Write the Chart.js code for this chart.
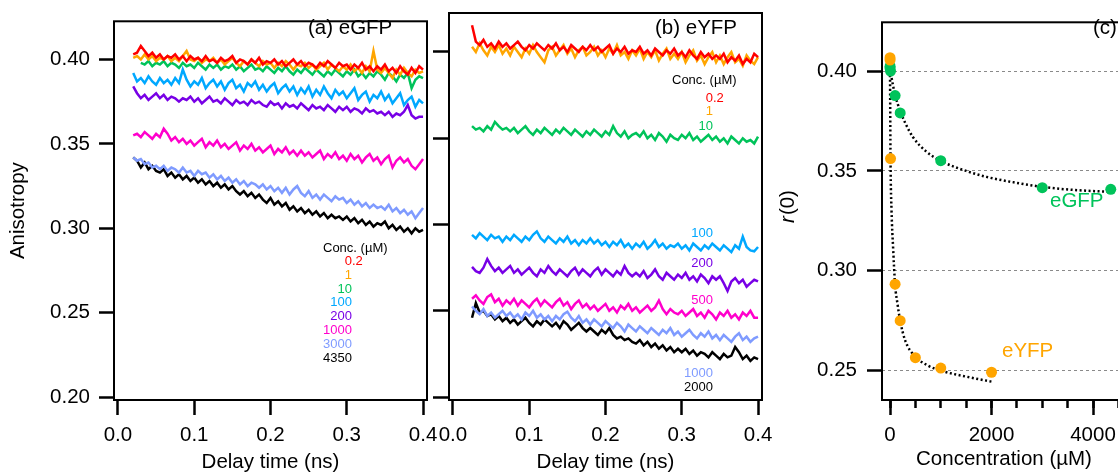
<!DOCTYPE html>
<html>
<head>
<meta charset="utf-8">
<script src="https://cdn.jsdelivr.net/npm/chart.js@4.4.1/dist/chart.umd.min.js"></script>
<style>
  html, body { margin: 0; padding: 0; background: #fff; overflow: hidden; }
  #wrap { position: relative; width: 1118px; height: 475px; overflow: hidden; }
  canvas { position: absolute; left: 0; top: 0; }
</style>
</head>
<body>
<div id="wrap">
  <canvas id="chartA" width="1118" height="475"></canvas>
  <canvas id="chartB" width="1118" height="475"></canvas>
  <canvas id="chartC" width="1140" height="475"></canvas>
</div>
<script>
// delay time grid of the anisotropy traces (ns)
const delay = [
  0.020, 0.025, 0.030, 0.035, 0.040, 0.045, 0.050, 0.055, 0.060, 0.065, 0.070,
  0.075, 0.080, 0.085, 0.090, 0.095, 0.100, 0.105, 0.110, 0.115, 0.120, 0.125,
  0.130, 0.135, 0.140, 0.145, 0.150, 0.155, 0.160, 0.165, 0.170, 0.175, 0.180,
  0.185, 0.190, 0.195, 0.200, 0.205, 0.210, 0.215, 0.220, 0.225, 0.230, 0.235,
  0.240, 0.245, 0.250, 0.255, 0.260, 0.265, 0.270, 0.275, 0.280, 0.285, 0.290,
  0.295, 0.300, 0.305, 0.310, 0.315, 0.320, 0.325, 0.330, 0.335, 0.340, 0.345,
  0.350, 0.355, 0.360, 0.365, 0.370, 0.375, 0.380, 0.385, 0.390, 0.395, 0.400
];

// (a) eGFP anisotropy traces
const gfp02 = [
  .403,.404,.408,.405,.402,.404,.401,.403,.400,.402,.401,
  .403,.400,.402,.399,.402,.400,.401,.399,.402,.399,.400,
  .398,.401,.399,.400,.402,.398,.400,.399,.397,.400,.398,
  .401,.397,.399,.398,.400,.397,.399,.396,.398,.400,.397,
  .399,.396,.398,.397,.395,.398,.396,.399,.397,.395,.398,
  .396,.397,.394,.397,.395,.398,.394,.396,.393,.396,.394,
  .397,.393,.395,.392,.396,.393,.391,.395,.392,.396,.394
];
const gfp1 = [
  .401,.402,.400,.403,.400,.402,.399,.401,.400,.402,.399,
  .401,.399,.402,.405,.400,.399,.401,.398,.400,.399,.401,
  .398,.400,.397,.399,.401,.398,.396,.399,.397,.400,.398,
  .396,.399,.397,.398,.395,.398,.396,.399,.397,.394,.397,
  .396,.398,.395,.397,.394,.396,.398,.394,.397,.395,.393,
  .396,.394,.397,.393,.395,.392,.396,.393,.405,.394,.392,
  .395,.392,.389,.394,.391,.395,.392,.390,.394,.392,.393
];
const gfp10 = [
  null,null,.398,.397,.399,.396,.398,.397,.399,.396,.398,
  .397,.395,.398,.396,.397,.395,.398,.396,.394,.397,.395,
  .397,.394,.396,.395,.397,.394,.396,.393,.395,.397,.394,
  .395,.393,.396,.394,.392,.395,.393,.396,.393,.391,.394,
  .392,.395,.393,.391,.394,.392,.390,.393,.391,.394,.392,
  .390,.393,.391,.394,.390,.392,.389,.392,.390,.393,.391,
  .388,.392,.390,.387,.391,.389,.392,.383,.388,.390,.389
];
const gfp100 = [
  .392,.387,.389,.386,.390,.387,.385,.389,.386,.388,.385,
  .389,.386,.394,.388,.384,.387,.385,.389,.383,.386,.388,
  .384,.387,.382,.386,.388,.383,.385,.381,.386,.384,.387,
  .382,.385,.381,.384,.386,.380,.383,.385,.381,.384,.379,
  .383,.380,.384,.378,.382,.379,.384,.380,.377,.382,.379,
  .381,.377,.380,.383,.376,.379,.381,.375,.379,.377,.381,
  .376,.379,.374,.377,.380,.373,.376,.378,.372,.376,.374
];
const gfp200 = [
  .384,.380,.377,.379,.376,.378,.380,.377,.379,.376,.378,
  .377,.375,.377,.376,.378,.375,.377,.374,.376,.378,.375,
  .376,.374,.377,.375,.373,.376,.374,.375,.373,.376,.374,
  .375,.373,.372,.375,.373,.374,.371,.374,.372,.373,.371,
  .374,.372,.370,.373,.371,.372,.370,.373,.371,.369,.372,
  .370,.372,.369,.371,.370,.368,.371,.369,.370,.368,.369,
  .367,.369,.366,.368,.367,.369,.373,.367,.365,.366,.366
];
const gfp1000 = [
  .355,.356,.354,.357,.355,.353,.356,.354,.359,.356,.352,
  .354,.351,.353,.350,.352,.349,.351,.353,.348,.351,.349,
  .352,.348,.350,.347,.349,.351,.346,.349,.347,.350,.346,
  .348,.345,.347,.349,.344,.347,.345,.348,.344,.346,.343,
  .346,.343,.345,.342,.344,.346,.341,.344,.342,.345,.341,
  .343,.340,.344,.341,.343,.339,.342,.344,.340,.342,.338,
  .341,.343,.336,.340,.342,.339,.341,.337,.335,.338,.341
];
const gfp3000 = [
  .342,.340,.341,.338,.339,.336,.337,.335,.337,.334,.336,
  .335,.333,.336,.333,.334,.331,.334,.332,.333,.330,.332,
  .329,.331,.328,.330,.327,.329,.326,.328,.325,.327,.326,
  .324,.326,.323,.325,.322,.324,.321,.324,.320,.323,.325,
  .321,.319,.322,.318,.320,.317,.320,.318,.316,.319,.317,
  .318,.315,.317,.314,.316,.313,.315,.312,.314,.312,.313,
  .311,.314,.310,.312,.309,.311,.308,.310,.306,.309,.312
];
const gfp4350 = [
  .342,.340,.336,.339,.335,.337,.334,.333,.335,.331,.333,
  .330,.332,.329,.331,.328,.330,.327,.329,.326,.328,.325,
  .327,.324,.326,.323,.325,.322,.320,.322,.319,.321,.318,
  .320,.317,.315,.318,.314,.316,.313,.315,.311,.313,.310,
  .312,.309,.311,.308,.310,.307,.309,.306,.308,.306,.307,
  .305,.307,.304,.306,.303,.305,.302,.304,.301,.303,.302,
  .304,.300,.302,.299,.301,.298,.300,.297,.300,.298,.299
];

// (b) eYFP anisotropy traces
const yfp02 = [
  null,.4155,.406,.404,.407,.403,.405,.402,.406,.403,.405,
  .402,.404,.406,.403,.401,.404,.402,.405,.403,.401,.404,
  .402,.405,.401,.403,.400,.404,.402,.400,.403,.401,.404,
  .401,.403,.400,.402,.404,.399,.402,.400,.403,.399,.401,
  .400,.403,.399,.401,.398,.402,.400,.398,.401,.399,.402,
  .398,.400,.397,.401,.398,.396,.400,.397,.399,.396,.398,
  .396,.399,.394,.397,.395,.398,.393,.396,.394,.399,.397
];
const yfp1 = [
  null,.403,.400,.405,.401,.398,.403,.400,.404,.399,.402,
  .398,.403,.400,.397,.402,.399,.404,.400,.397,.394,.401,
  .403,.398,.401,.404,.399,.402,.397,.401,.403,.398,.400,
  .403,.398,.401,.397,.402,.399,.404,.398,.400,.396,.401,
  .398,.402,.396,.400,.397,.401,.395,.399,.402,.396,.399,
  .396,.400,.394,.398,.401,.395,.398,.393,.397,.400,.394,
  .398,.393,.397,.400,.394,.396,.392,.398,.395,.393,.397
];
const yfp10 = [
  null,.357,.355,.356,.354,.357,.355,.3595,.357,.355,.356,
  .354,.356,.353,.355,.357,.354,.352,.355,.353,.356,.354,
  .352,.355,.353,.356,.354,.352,.355,.353,.351,.354,.352,
  .355,.353,.351,.354,.352,.357,.353,.351,.354,.350,.352,
  .353,.351,.354,.350,.352,.349,.353,.351,.348,.352,.350,
  .349,.352,.350,.353,.349,.351,.348,.350,.352,.349,.351,
  .348,.350,.347,.351,.349,.347,.350,.348,.349,.347,.351
];
const yfp100 = [
  null,.294,.292,.295,.293,.291,.294,.292,.293,.290,.293,
  .291,.294,.292,.290,.293,.291,.294,.296,.292,.290,.293,
  .291,.289,.292,.290,.293,.289,.291,.288,.291,.289,.292,
  .289,.291,.288,.290,.287,.290,.288,.291,.287,.289,.286,
  .289,.287,.290,.286,.288,.291,.287,.289,.286,.288,.287,
  .289,.286,.288,.285,.289,.287,.285,.288,.286,.289,.287,
  .285,.288,.286,.284,.288,.286,.293,.287,.285,.2845,.287
];
const yfp200 = [
  null,.2755,.273,.272,.275,.280,.276,.273,.275,.272,.274,
  .276,.272,.274,.271,.273,.275,.272,.270,.274,.272,.276,
  .273,.271,.274,.272,.270,.273,.275,.271,.274,.272,.270,
  .273,.275,.271,.274,.272,.270,.273,.271,.276,.272,.270,
  .272,.270,.273,.269,.271,.274,.270,.268,.272,.270,.268,
  .271,.269,.272,.268,.270,.267,.271,.269,.266,.270,.268,
  .270,.266,.2615,.267,.269,.266,.268,.264,.266,.268,.267
];
const yfp500 = [
  null,.257,.259,.256,.254,.258,.2595,.255,.257,.253,.256,
  .254,.257,.253,.256,.254,.252,.255,.257,.253,.256,.254,
  .252,.255,.257,.253,.255,.251,.254,.256,.252,.254,.251,
  .253,.250,.252,.254,.250,.252,.249,.253,.251,.254,.250,
  .252,.249,.251,.253,.250,.252,.256,.251,.248,.251,.249,
  .248,.250,.247,.249,.251,.247,.249,.246,.250,.248,.245,
  .249,.247,.250,.246,.248,.245,.249,.247,.250,.246,.246
];
const yfp1000 = [
  null,.2525,.250,.248,.251,.247,.249,.246,.248,.250,.247,
  .249,.246,.248,.245,.249,.247,.250,.246,.248,.245,.247,
  .244,.247,.245,.248,.2495,.246,.244,.247,.243,.245,.242,
  .245,.243,.241,.244,.242,.240,.243,.241,.238,.242,.240,
  .238,.241,.239,.237,.240,.238,.236,.239,.237,.240,.236,
  .238,.235,.237,.239,.236,.234,.237,.235,.238,.234,.236,
  .233,.236,.234,.232,.235,.237,.233,.235,.232,.234,.235
];
const yfp2000 = [
  null,.246,.2545,.249,.250,.247,.248,.245,.247,.244,.246,
  .243,.245,.242,.244,.246,.243,.241,.244,.242,.245,.243,
  .241,.243,.240,.244,.242,.239,.241,.243,.240,.238,.240,
  .238,.236,.239,.237,.240,.236,.234,.235,.233,.234,.232,
  .231,.233,.230,.232,.229,.231,.228,.230,.227,.229,.226,
  .228,.226,.228,.225,.227,.224,.226,.225,.223,.226,.224,
  .222,.225,.223,.224,.229,.226,.222,.224,.221,.223,.222
];

const concA = ['0.2', '1', '10', '100', '200', '1000', '3000', '4350'];
const concB = ['0.2', '1', '10', '100', '200', '500', '1000', '2000'];
const tracesA = [gfp02, gfp1, gfp10, gfp100, gfp200, gfp1000, gfp3000, gfp4350];
const tracesB = [yfp02, yfp1, yfp10, yfp100, yfp200, yfp500, yfp1000, yfp2000];

// (c) initial anisotropy r(0) vs concentration (µM)
const concGFP = [0.2, 1, 10, 100, 200, 1000, 3000, 4350];
const r0GFP = [0.4015, 0.4024, 0.4000, 0.3877, 0.3790, 0.3551, 0.3416, 0.3408];
const concYFP = [0.2, 1, 10, 100, 200, 500, 1000, 2000];
const r0YFP = [0.4067, 0.4055, 0.3562, 0.2933, 0.2750, 0.2565, 0.2513, 0.2492];
// dotted fit curves
const fitGFPx = [0, 50, 100, 200, 300, 450, 700, 1000, 1500, 1900, 2500, 3000, 3600, 4350];
const fitGFPy = [0.401, 0.394, 0.388, 0.380, 0.374, 0.367, 0.360, 0.355, 0.350, 0.347, 0.344, 0.342, 0.3405, 0.3395];
const fitYFPx = [0, 10, 30, 60, 100, 150, 200, 300, 500, 750, 1000, 1500, 2000];
const fitYFPy = [0.400, 0.356, 0.330, 0.312, 0.293, 0.283, 0.275, 0.265, 0.257, 0.2525, 0.250, 0.247, 0.2445];

// tick values
const yTicksAB = [0.20, 0.25, 0.30, 0.35, 0.40];
const xTicksAB = [0.0, 0.1, 0.2, 0.3, 0.4];
const yTicksC = [0.25, 0.30, 0.35, 0.40];
const xTicksC = [0, 2000, 4000];
const xMinorC = [0, 500, 1000, 1500, 2000, 2500, 3000, 3500, 4000, 4500];

const seriesColors = ['#ff0000', '#ffa500', '#00c35a', '#00a8ff', '#7800e6', '#ff00cc', '#7f9bff', '#000000'];
const colGFP = '#00c35a';
const colYFP = '#ffa500';

const FONT = '"Liberation Sans", Arial, Helvetica, sans-serif';
const BIG = 20.5;
const SMALL = 13;
Chart.defaults.font.family = FONT;
Chart.defaults.color = '#000';
Chart.defaults.animation = false;

function setTicks(values) {
  return function (scale) {
    scale.ticks = values.map(v => ({ value: v }));
  };
}

const framePlugin = {
  id: 'frame',
  afterDatasetsDraw(chart) {
    const ctx = chart.ctx;
    const a = chart.chartArea;
    ctx.save();
    ctx.strokeStyle = '#000';
    ctx.lineWidth = 2;
    ctx.strokeRect(a.left, a.top, a.right - a.left, a.bottom - a.top);
    ctx.restore();
  }
};

// free text: panel titles, concentration labels
function notesPlugin(items, legend) {
  return {
    id: 'notes',
    afterDraw(chart) {
      const ctx = chart.ctx;
      ctx.save();
      ctx.textBaseline = 'middle';
      items.forEach(n => {
        ctx.font = (n.italic ? 'italic ' : '') + n.size + 'px ' + FONT;
        ctx.fillStyle = n.color || '#000';
        ctx.textAlign = n.align || 'left';
        ctx.fillText(n.text, n.x, n.y);
      });
      if (legend) {
        ctx.font = SMALL + 'px ' + FONT;
        ctx.fillStyle = '#000';
        ctx.textAlign = 'left';
        ctx.fillText('Conc. (µM)', legend.headX, legend.headY);
        legend.labels.forEach((lab, i) => {
          // numbers aligned on the decimal point
          const parts = lab.split('.');
          ctx.fillStyle = seriesColors[i];
          ctx.textAlign = 'right';
          ctx.fillText(parts[0], legend.anchor, legend.ys[i]);
          if (parts.length > 1) {
            ctx.textAlign = 'left';
            ctx.fillText('.' + parts[1], legend.anchor, legend.ys[i]);
          }
        });
      }
      ctx.restore();
    }
  };
}

function traceDatasets(labels, traces) {
  return traces.map((d, i) => ({
    label: labels[i],
    data: d,
    borderColor: seriesColors[i],
    borderWidth: 2.5,
    pointRadius: 0,
    tension: 0,
    spanGaps: false
  }));
}

function xAxisAB() {
  return {
    type: 'linear',
    min: -0.0052,
    max: 0.4052,
    afterBuildTicks: setTicks(xTicksAB),
    afterFit: s => { s.height = 75; },
    border: { display: false },
    grid: { drawOnChartArea: false, tickLength: 15, tickWidth: 2.5, tickColor: '#000' },
    ticks: { padding: 8, autoSkip: false, maxRotation: 0, font: { size: BIG }, color: '#000',
      callback: v => v.toFixed(1) },
    title: { display: true, text: 'Delay time (ns)', font: { size: BIG }, color: '#000',
      padding: { top: 0, bottom: 0 } }
  };
}

// (a) eGFP
new Chart(document.getElementById('chartA'), {
  type: 'line',
  data: { labels: delay, datasets: traceDatasets(concA, tracesA) },
  options: {
    responsive: false,
    events: [],
    layout: { padding: { left: 0, top: 13, right: 691, bottom: 0 } },
    plugins: { legend: { display: false }, tooltip: { enabled: false } },
    scales: {
      x: xAxisAB(),
      y: {
        min: 0.1983,
        max: 0.4226,
        afterBuildTicks: setTicks(yTicksAB),
        afterFit: s => { s.width = 114; },
        border: { display: false },
        grid: { drawOnChartArea: false, tickLength: 15, tickWidth: 2.5, tickColor: '#000' },
        ticks: { padding: 9, font: { size: BIG }, color: '#000', callback: v => v.toFixed(2) },
        title: { display: true, text: 'Anisotropy', font: { size: BIG }, color: '#000',
          padding: { top: 6, bottom: 0 } }
      }
    }
  },
  plugins: [framePlugin, notesPlugin(
    [{ text: '(a) eGFP', x: 308, y: 28, size: BIG }],
    { labels: concA, headX: 323, headY: 248, anchor: 352,
      ys: [261.7, 275, 289, 302.7, 316.7, 330.7, 344.3, 358.3] }
  )]
});

// (b) eYFP
new Chart(document.getElementById('chartB'), {
  type: 'line',
  data: { labels: delay, datasets: traceDatasets(concB, tracesB) },
  options: {
    responsive: false,
    events: [],
    layout: { padding: { left: 433, top: 13, right: 356, bottom: 0 } },
    plugins: { legend: { display: false }, tooltip: { enabled: false } },
    scales: {
      x: xAxisAB(),
      y: {
        min: 0.1983,
        max: 0.4226,
        afterBuildTicks: setTicks(yTicksAB),
        afterFit: s => { s.width = 16; },
        border: { display: false },
        grid: { drawOnChartArea: false, tickLength: 16, tickWidth: 2.5, tickColor: '#000' },
        ticks: { display: false }
      }
    }
  },
  plugins: [framePlugin, notesPlugin(
    [{ text: '(b) eYFP', x: 655, y: 28, size: BIG }],
    { labels: concB, headX: 672, headY: 80.5, anchor: 713,
      ys: [98.5, 111, 126, 233, 263, 300, 373, 387] }
  )]
});

// (c) r(0) vs concentration
function pairs(xs, ys) {
  return xs.map((x, i) => ({ x: x, y: ys[i] }));
}

const rTitle = {
  id: 'rTitle',
  afterDraw(chart) {
    const ctx = chart.ctx;
    ctx.save();
    ctx.translate(788, 206.5);
    ctx.rotate(-Math.PI / 2);
    ctx.textBaseline = 'middle';
    ctx.textAlign = 'left';
    ctx.fillStyle = '#000';
    ctx.font = 'italic ' + BIG + 'px ' + FONT;
    const w1 = ctx.measureText('r').width;
    ctx.font = BIG + 'px ' + FONT;
    const w2 = ctx.measureText('(0)').width;
    const x0 = -(w1 + w2 + 1) / 2;
    ctx.font = 'italic ' + BIG + 'px ' + FONT;
    ctx.fillText('r', x0, 0);
    ctx.font = BIG + 'px ' + FONT;
    ctx.fillText('(0)', x0 + w1 + 1, 0);
    ctx.restore();
  }
};

new Chart(document.getElementById('chartC'), {
  type: 'scatter',
  data: {
    datasets: [
      { label: 'eYFP', data: pairs(concYFP, r0YFP), showLine: false,
        pointRadius: 5.5, pointBackgroundColor: colYFP, pointBorderWidth: 0 },
      { label: 'eGFP', data: pairs(concGFP, r0GFP), showLine: false,
        pointRadius: 5.5, pointBackgroundColor: colGFP, pointBorderWidth: 0 },
      { label: 'eYFP fit', data: pairs(fitYFPx, fitYFPy), showLine: true, pointRadius: 0,
        borderColor: '#000', borderWidth: 2.5, borderDash: [2, 2.5], cubicInterpolationMode: 'monotone' },
      { label: 'eGFP fit', data: pairs(fitGFPx, fitGFPy), showLine: true, pointRadius: 0,
        borderColor: '#000', borderWidth: 2.5, borderDash: [2, 2.5], cubicInterpolationMode: 'monotone' }
    ]
  },
  options: {
    responsive: false,
    events: [],
    layout: { padding: { left: 770, top: 13, right: 14, bottom: 0 } },
    plugins: { legend: { display: false }, tooltip: { enabled: false } },
    scales: {
      x: {
        type: 'linear',
        position: 'bottom',
        weight: 2,
        min: -158,
        max: 4650,
        afterBuildTicks: setTicks(xTicksC),
        afterFit: s => { s.height = 75; },
        border: { display: false },
        grid: { drawOnChartArea: false, tickLength: 15, tickWidth: 2.5, tickColor: '#000' },
        ticks: { padding: 8, autoSkip: false, maxRotation: 0, font: { size: BIG }, color: '#000',
          callback: v => String(v) },
        title: { display: true, text: 'Concentration (µM)', font: { size: BIG }, color: '#000',
          padding: { top: 0, bottom: 3 } }
      },
      xMinor: {
        type: 'linear',
        position: 'bottom',
        weight: 1,
        min: -158,
        max: 4650,
        afterBuildTicks: setTicks(xMinorC),
        afterFit: s => { s.height = 0; },
        border: { display: false },
        grid: { drawOnChartArea: false, tickLength: 8, tickWidth: 2.5, tickColor: '#000' },
        ticks: { display: false }
      },
      y: {
        min: 0.2353,
        max: 0.4244,
        afterBuildTicks: setTicks(yTicksC),
        afterFit: s => { s.width = 112; },
        border: { display: false, dash: [3, 3] },
        grid: { color: '#8a8a8a', lineWidth: 1, tickLength: 15, tickWidth: 2.5, tickColor: '#000' },
        ticks: { padding: 10, font: { size: BIG }, color: '#000', callback: v => v.toFixed(2) }
      }
    }
  },
  plugins: [framePlugin, rTitle, notesPlugin([
    { text: '(c)', x: 1093, y: 28, size: BIG },
    { text: 'eGFP', x: 1050, y: 201, size: BIG, color: colGFP },
    { text: 'eYFP', x: 1002, y: 351, size: BIG, color: colYFP }
  ])]
});
</script>
</body>
</html>
